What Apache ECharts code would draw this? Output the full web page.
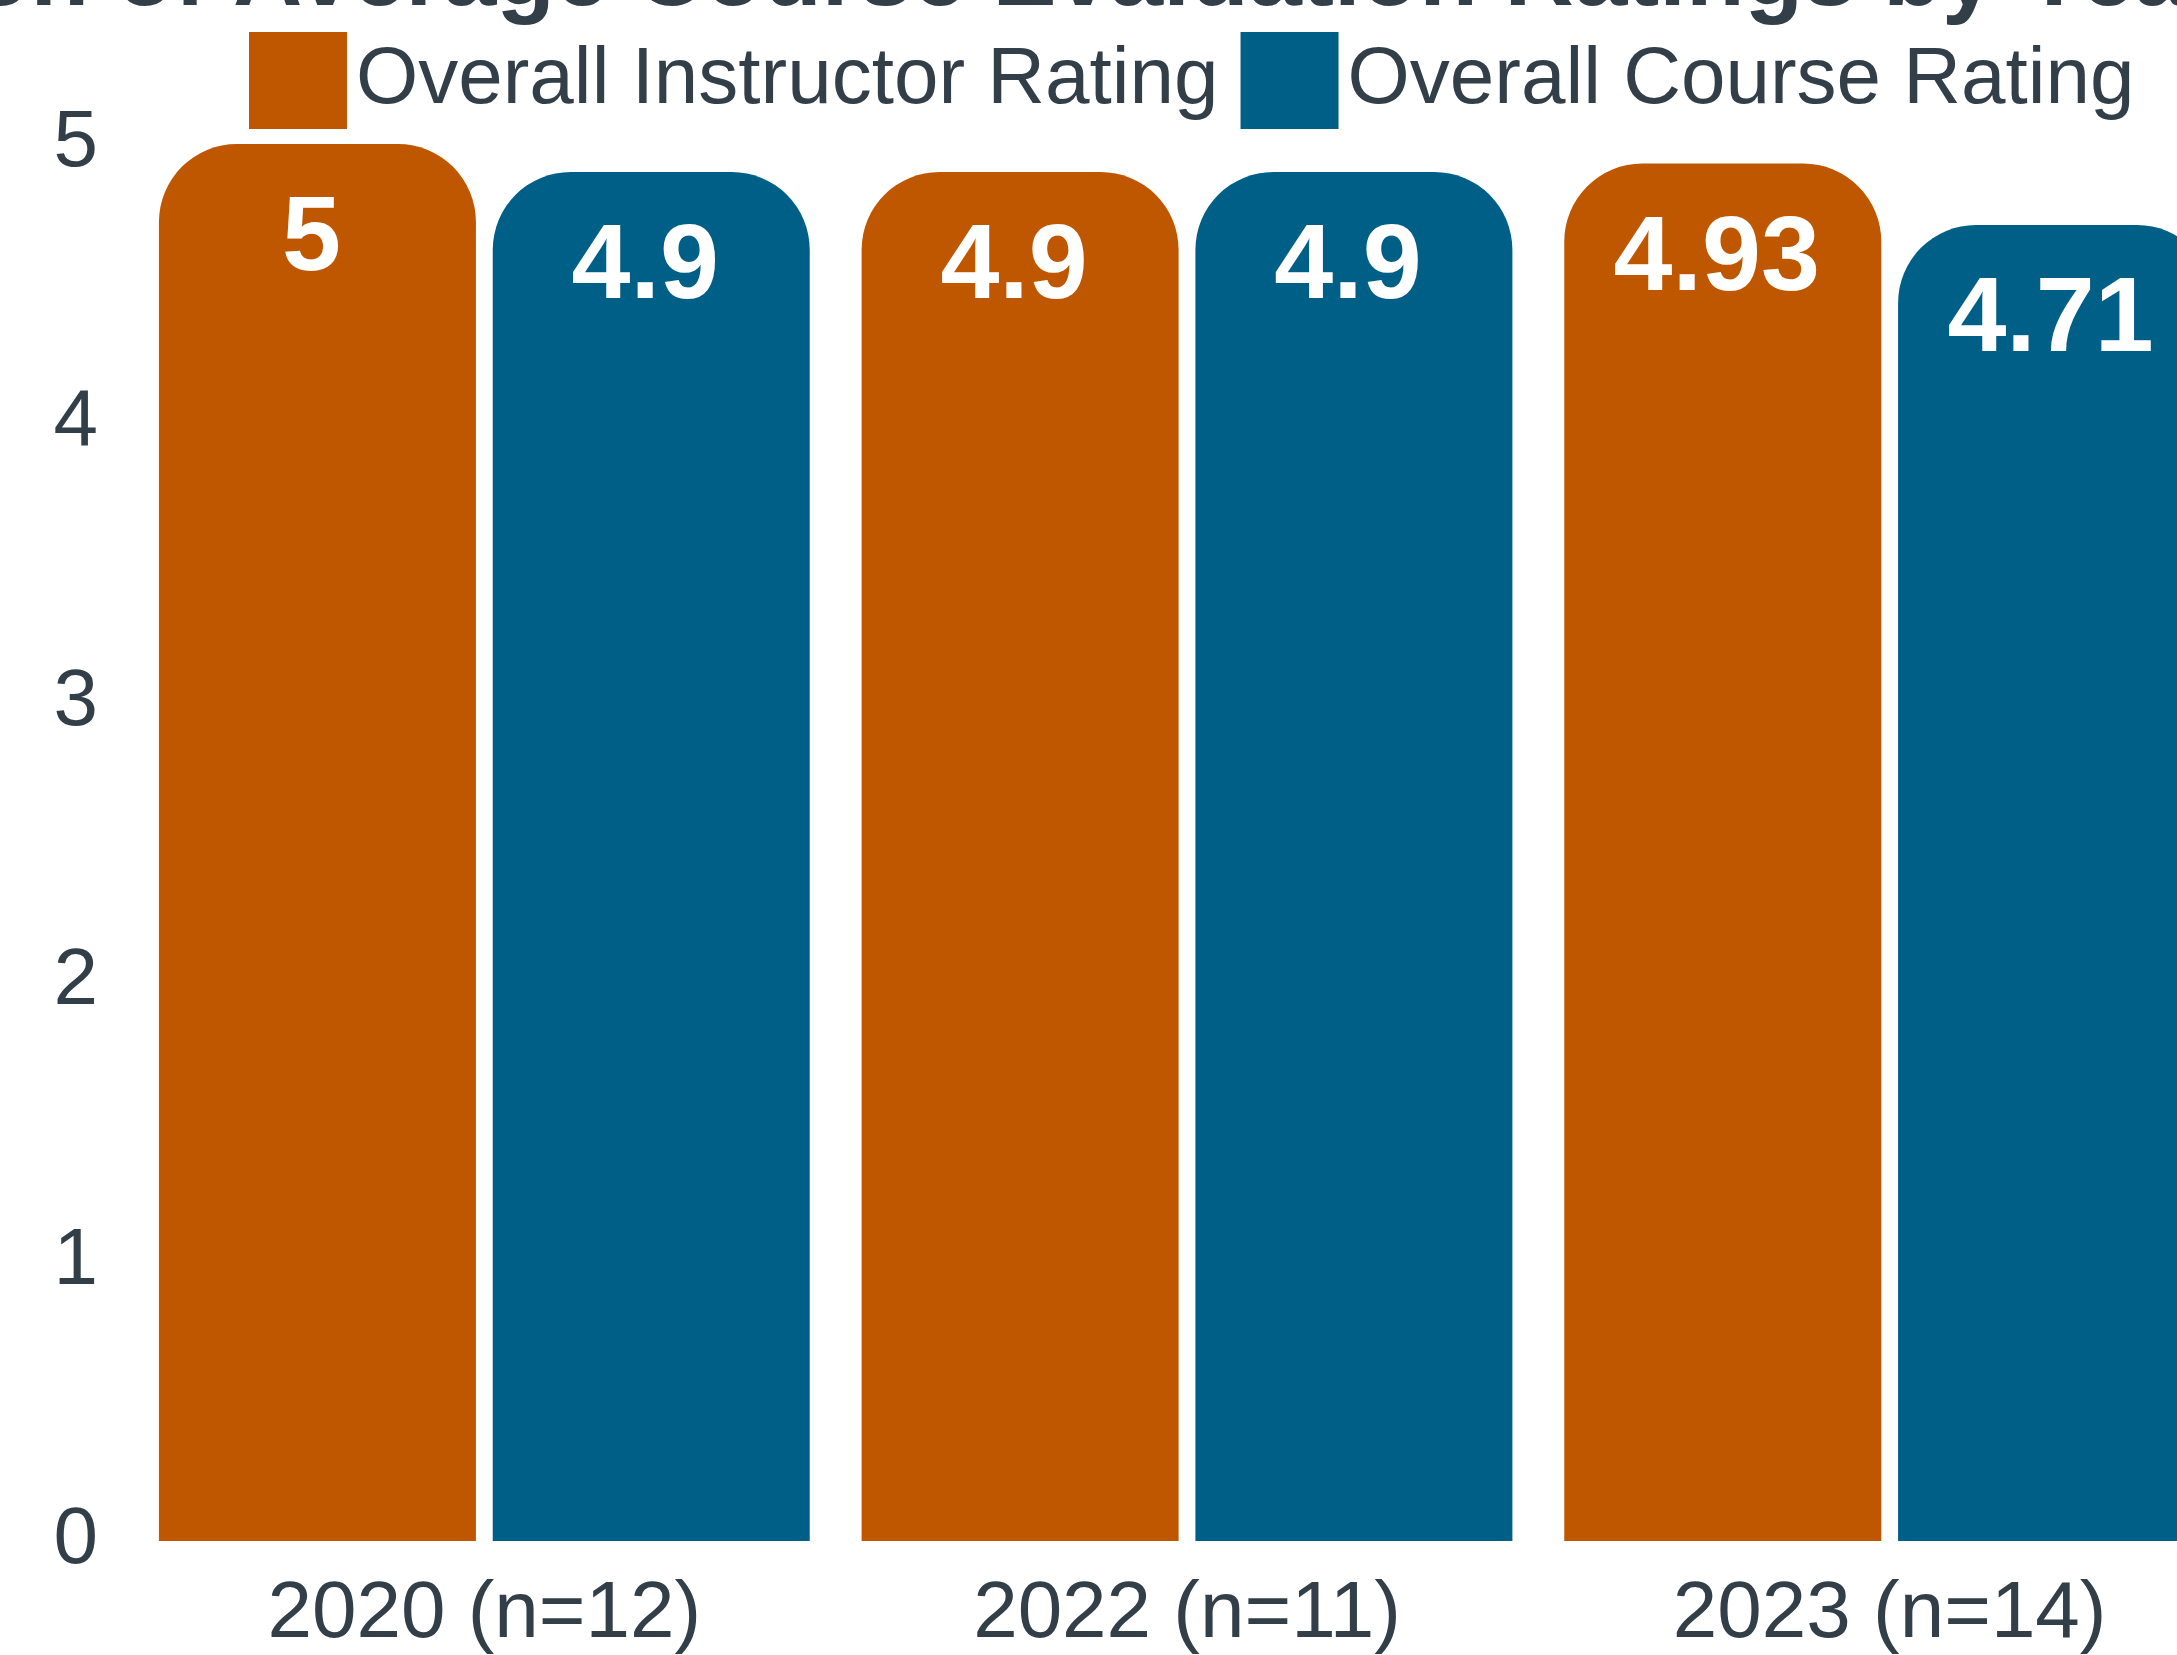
<!DOCTYPE html>
<html>
<head>
<meta charset="utf-8">
<title>Course Evaluation Ratings</title>
<script src="https://cdn.jsdelivr.net/npm/echarts@6/dist/echarts.min.js"></script>
<style>
html, body {
    margin: 0;
    padding: 0;
    overflow: hidden;
    background: #fff;
}
#chart {
    width: 2241px;
    height: 1655px;
}
</style>
</head>
<body>
<div id="chart"></div>
<script>
// data
const categories = ["2020 (n=12)", "2022 (n=11)", "2023 (n=14)"];
const instructorRating = [5, 4.9, 4.93];
const courseRating = [4.9, 4.9, 4.71];
const yTicks = [0, 1, 2, 3, 4, 5];

const FONT = "'Liberation Sans', Arial, sans-serif";
const TEXT = "#333f48";
const ORANGE = "#bf5700";
const BLUE = "#005f86";

const barLabel = {
    show: true,
    position: "insideTop",
    distance: 44,
    offset: [-6, 0],
    color: "#fff",
    fontWeight: "bold",
    fontSize: 106,
    fontFamily: FONT,
};

const option = {
    animation: false,
    backgroundColor: "#fff",
    title: {
        text: "Comparison of Average Course Evaluation Ratings by Year",
        left: -476,
        top: -74,
        textStyle: {
            color: TEXT,
            fontSize: 96,
            fontWeight: "bold",
            fontFamily: FONT,
        },
    },
    legend: {
        left: 244,
        top: 27,
        icon: "rect",
        itemWidth: 98,
        itemHeight: 97,
        itemGap: 22,
        textStyle: {
            color: TEXT,
            fontSize: 80,
            fontFamily: FONT,
            padding: [0, 0, 6, 4],
        },
        data: ["Overall Instructor Rating", "Overall Course Rating"],
    },
    grid: {
        left: 133,
        right: 0,
        top: 144,
        bottom: 114,
        outerBoundsMode: "none",
    },
    xAxis: {
        type: "category",
        data: categories,
        axisLine: { show: false },
        axisTick: { show: false },
        axisLabel: {
            color: TEXT,
            fontSize: 80,
            fontFamily: FONT,
            margin: 34,
        },
    },
    yAxis: {
        type: "value",
        min: yTicks[0],
        max: yTicks[yTicks.length - 1],
        interval: 1,
        axisLine: { show: false },
        axisTick: { show: false },
        splitLine: { show: false },
        axisLabel: {
            color: TEXT,
            fontSize: 80,
            fontFamily: FONT,
            margin: 35,
        },
    },
    series: [
        {
            name: "Overall Instructor Rating",
            type: "bar",
            data: instructorRating,
            barWidth: 317,
            barGap: "5.3%",
            itemStyle: {
                color: ORANGE,
                borderRadius: [78, 78, 0, 0],
            },
            label: barLabel,
        },
        {
            name: "Overall Course Rating",
            type: "bar",
            data: courseRating,
            barWidth: 317,
            barGap: "5.3%",
            itemStyle: {
                color: BLUE,
                borderRadius: [78, 78, 0, 0],
            },
            label: barLabel,
        },
    ],
};

const chart = echarts.init(document.getElementById("chart"));
chart.setOption(option);
</script>
</body>
</html>
